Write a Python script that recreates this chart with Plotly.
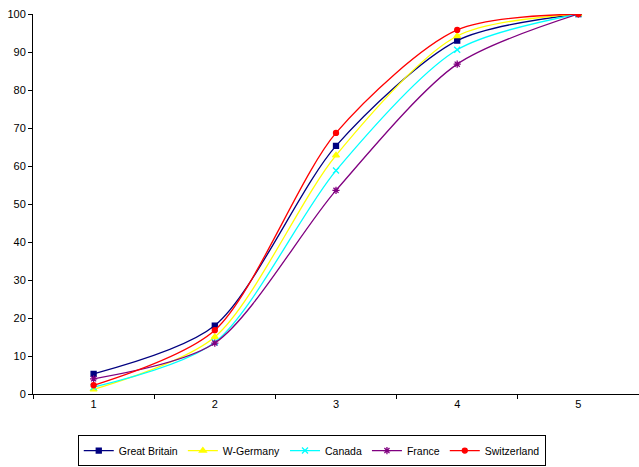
import plotly.graph_objects as go

categories = ["1", "2", "3", "4", "5"]
great_britain = [5.3, 18.0, 65.3, 93.0, 100]
w_germany = [1.2, 15.0, 62.8, 94.2, 100]
canada = [1.8, 13.6, 58.8, 90.6, 100]
france = [4.0, 13.4, 53.6, 86.8, 100]
switzerland = [2.3, 16.8, 68.7, 95.8, 100]

series = [
    ("Great Britain", great_britain, "#000080", "square", 5),
    ("W-Germany", w_germany, "#FFFF00", "triangle-up", 6),
    ("Canada", canada, "#00FFFF", "x-thin-open", 6),
    ("France", france, "#800080", "asterisk-open", 6),
    ("Switzerland", switzerland, "#FF0000", "circle", 5),
]

fig = go.Figure()
for name, vals, color, sym, size in series:
    fig.add_trace(go.Scatter(
        x=categories, y=vals, name=name, mode="lines+markers",
        line=dict(color=color, width=1.3, shape="spline", smoothing=0.8),
        marker=dict(symbol=sym, size=size, color=color,
                    line=dict(color=color, width=1.3)),
    ))

fig.update_layout(
    width=639, height=467,
    margin=dict(l=33, r=0, t=14, b=73),
    paper_bgcolor="white", plot_bgcolor="white",
    font=dict(family="Liberation Sans, Arial, sans-serif", size=11, color="black"),
    showlegend=True,
    legend=dict(
        orientation="h", x=0.46, xanchor="center", y=-0.108, yanchor="top",
        bordercolor="black", borderwidth=1, font=dict(size=10.5),
        itemwidth=30, tracegroupgap=0,
    ),
    xaxis=dict(
        type="category", range=[-0.5, 4.5], showgrid=False,
        showline=True, linecolor="black", linewidth=1,
        ticks="outside", ticklen=4, tickcolor="black", tickson="boundaries",
        zeroline=False, fixedrange=True,
    ),
    yaxis=dict(
        range=[0, 100], dtick=10, showgrid=False,
        showline=True, linecolor="black", linewidth=1,
        ticks="outside", ticklen=4, tickcolor="black",
        zeroline=False,
    ),
)

fig.write_html("out.html", config={"displayModeBar": False},
               post_script="document.body.style.margin='0';")
